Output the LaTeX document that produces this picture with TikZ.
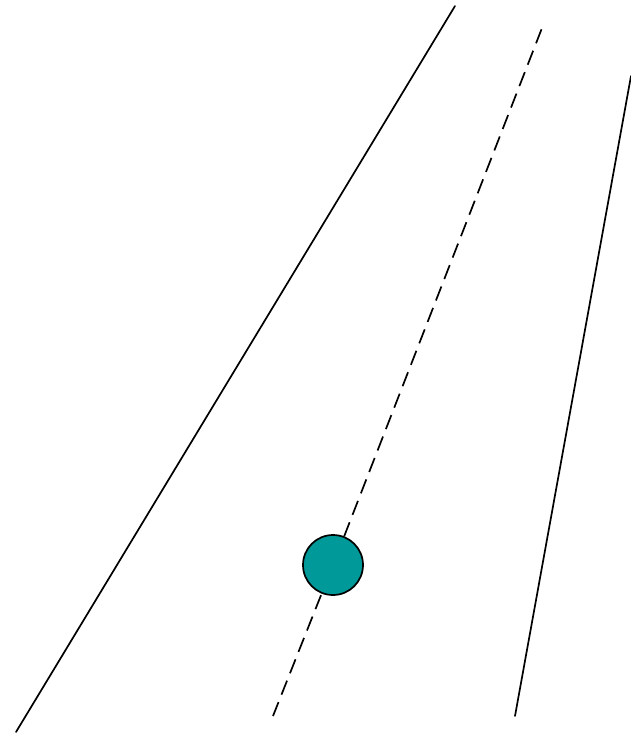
\documentclass[tikz,border=0pt]{standalone}
\usepackage{tikz}

\definecolor{ballteal}{HTML}{009999}

\begin{document}
\begin{tikzpicture}[x=1pt, y=-1pt, line width=1.7pt,
	edge/.style={black, line cap=round},
	path/.style={black, dashed, dash pattern=on 15pt off 8pt},
	ball/.style={circle, draw=black, fill=ballteal, minimum size=60pt, inner sep=0pt}]
	\useasboundingbox (0,0) rectangle (631,734);
	% road edges
	\coordinate (leftlow) at (16,732);
	\coordinate (lefthigh) at (455,6);
	\coordinate (rightlow) at (515,716);
	\coordinate (righthigh) at (631,76);
	\draw[edge] (leftlow) -- (lefthigh);
	\draw[edge] (rightlow) -- (righthigh);
	% centre line and the ball on it
	\coordinate (midlow) at (273,716);
	\coordinate (midhigh) at (542,28);
	\node[ball] (ball) at (333,565) {};
	\draw[path] (midlow) -- (ball);
	\draw[path] (ball) -- (midhigh);
\end{tikzpicture}
\end{document}
